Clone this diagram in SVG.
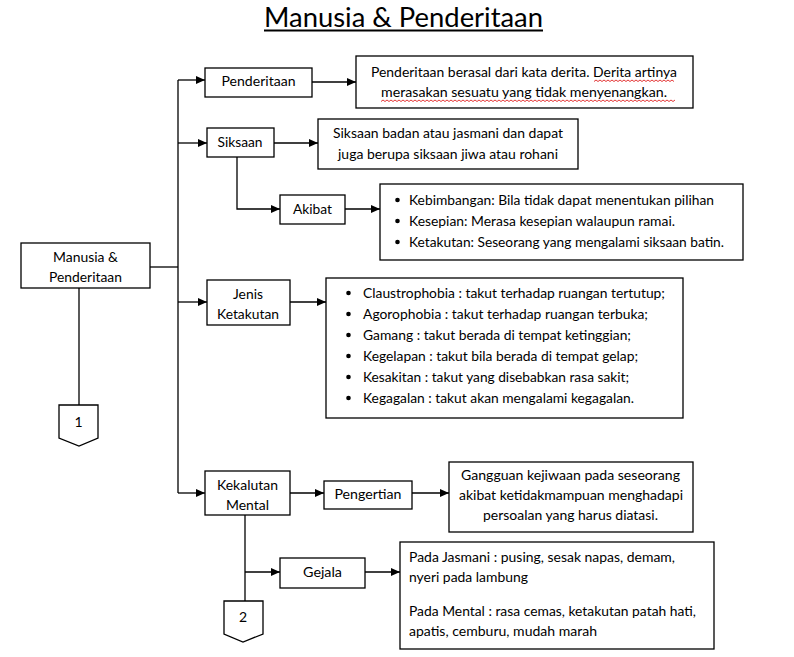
<svg xmlns="http://www.w3.org/2000/svg" width="794" height="657" viewBox="0 0 794 657">
<defs>
<marker id="arr" viewBox="0 0 9 8" refX="9" refY="4" markerWidth="9" markerHeight="8" markerUnits="userSpaceOnUse" orient="auto">
<path d="M0,0 L9,4 L0,8 z" fill="#000"/>
</marker>
<style>
.box{fill:#fff;stroke:#000;stroke-width:1.3}
.t{font-family:Lato,"Open Sans","Liberation Sans",sans-serif;font-size:14px;fill:#000}
.c{text-anchor:middle}
.ln{fill:none;stroke:#000;stroke-width:1.3}
.la{fill:none;stroke:#000;stroke-width:1.3;marker-end:url(#arr)}
.sq{fill:none;stroke:#e02020;stroke-width:0.9}
</style>
</defs>
<rect width="794" height="657" fill="#fff"/>

<g id="title">
<text class="t c" x="403.5" y="27" font-size="26" style="font-size:26px" textLength="279" lengthAdjust="spacingAndGlyphs">Manusia &amp; Penderitaan</text>
<rect x="264" y="29.5" width="279" height="2" fill="#000"/>
</g>

<g id="connectors">
<path class="ln" d="M150,267 H178"/>
<path class="ln" d="M178,80 V493"/>
<path class="la" d="M178,80 H205"/>
<path class="la" d="M178,143 H207"/>
<path class="la" d="M178,302 H207"/>
<path class="la" d="M178,493 H205"/>
<path class="la" d="M312,82 H356"/>
<path class="la" d="M274,143 H318"/>
<path class="la" d="M237,157 V209 H280"/>
<path class="la" d="M345,209 H380"/>
<path class="la" d="M290,302 H326"/>
<path class="la" d="M290,493 H324"/>
<path class="la" d="M412,493 H449"/>
<path class="ln" d="M245,515 V601"/>
<path class="la" d="M245,572 H280"/>
<path class="la" d="M365,572 H400"/>
<path class="ln" d="M79,288 V405"/>
</g>

<g id="manusia">
<rect class="box" x="21" y="243" width="129" height="45"/>
<text class="t c" x="85.5" y="262" textLength="65" lengthAdjust="spacingAndGlyphs">Manusia &amp;</text>
<text class="t c" x="85.5" y="282" textLength="73" lengthAdjust="spacingAndGlyphs">Penderitaan</text>
</g>

<g id="offpage1">
<path class="box" d="M59,405 H98 V438 L79,446 L59,438 z"/>
<text class="t c" x="78.5" y="427">1</text>
</g>

<g id="penderitaan">
<rect class="box" x="205" y="68" width="107" height="29"/>
<text class="t c" x="258.5" y="86" textLength="74" lengthAdjust="spacingAndGlyphs">Penderitaan</text>
</g>

<g id="penderitaan-desc">
<rect class="box" x="356" y="56" width="337" height="52"/>
<text class="t" x="371" y="77" textLength="306" lengthAdjust="spacingAndGlyphs">Penderitaan berasal dari kata derita. Derita artinya</text>
<text class="t" x="381" y="97" textLength="286" lengthAdjust="spacingAndGlyphs">merasakan sesuatu yang tidak menyenangkan.</text>
<path class="sq" d="M594,81.5 l2,-1.5 l2,1.5 l2,-1.5 l2,1.5 l2,-1.5 l2,1.5 l2,-1.5 l2,1.5 l2,-1.5 l2,1.5 l2,-1.5 l2,1.5 l2,-1.5 l2,1.5 l2,-1.5 l2,1.5 l2,-1.5 l2,1.5 l2,-1.5 l2,1.5 l2,-1.5 l2,1.5 l2,-1.5 l2,1.5 l2,-1.5 l2,1.5 l2,-1.5 l2,1.5 l2,-1.5 l2,1.5 l2,-1.5 l2,1.5 l2,-1.5 l2,1.5 l2,-1.5 l2,1.5 l2,-1.5 l2,1.5 l2,-1.5 l2,1.5"/>
<path class="sq" d="M381,101.5 l2,-1.5 l2,1.5 l2,-1.5 l2,1.5 l2,-1.5 l2,1.5 l2,-1.5 l2,1.5 l2,-1.5 l2,1.5 l2,-1.5 l2,1.5 l2,-1.5 l2,1.5 l2,-1.5 l2,1.5 l2,-1.5 l2,1.5 l2,-1.5 l2,1.5 l2,-1.5 l2,1.5 l2,-1.5 l2,1.5 l2,-1.5 l2,1.5 l2,-1.5 l2,1.5 l2,-1.5 l2,1.5 l2,-1.5 l2,1.5 l2,-1.5 l2,1.5 l2,-1.5 l2,1.5 l2,-1.5 l2,1.5 l2,-1.5 l2,1.5 l2,-1.5 l2,1.5 l2,-1.5 l2,1.5 l2,-1.5 l2,1.5 l2,-1.5 l2,1.5 l2,-1.5 l2,1.5 l2,-1.5 l2,1.5 l2,-1.5 l2,1.5 l2,-1.5 l2,1.5 l2,-1.5 l2,1.5 l2,-1.5 l2,1.5 l2,-1.5 l2,1.5 l2,-1.5 l2,1.5 l2,-1.5 l2,1.5 l2,-1.5 l2,1.5 l2,-1.5 l2,1.5 l2,-1.5 l2,1.5 l2,-1.5 l2,1.5 l2,-1.5 l2,1.5 l2,-1.5 l2,1.5 l2,-1.5 l2,1.5 l2,-1.5 l2,1.5 l2,-1.5 l2,1.5 l2,-1.5 l2,1.5 l2,-1.5 l2,1.5 l2,-1.5 l2,1.5 l2,-1.5 l2,1.5 l2,-1.5 l2,1.5 l2,-1.5 l2,1.5 l2,-1.5 l2,1.5 l2,-1.5 l2,1.5 l2,-1.5 l2,1.5 l2,-1.5 l2,1.5 l2,-1.5 l2,1.5 l2,-1.5 l2,1.5 l2,-1.5 l2,1.5 l2,-1.5 l2,1.5 l2,-1.5 l2,1.5 l2,-1.5 l2,1.5 l2,-1.5 l2,1.5 l2,-1.5 l2,1.5 l2,-1.5 l2,1.5 l2,-1.5 l2,1.5 l2,-1.5 l2,1.5 l2,-1.5 l2,1.5 l2,-1.5 l2,1.5 l2,-1.5 l2,1.5 l2,-1.5 l2,1.5 l2,-1.5 l2,1.5 l2,-1.5 l2,1.5 l2,-1.5 l2,1.5 l2,-1.5 l2,1.5 l2,-1.5 l2,1.5 l2,-1.5 l2,1.5 l2,-1.5"/>
</g>

<g id="siksaan">
<rect class="box" x="207" y="128" width="67" height="29"/>
<text class="t c" x="240" y="146.5" textLength="45" lengthAdjust="spacingAndGlyphs">Siksaan</text>
</g>

<g id="siksaan-desc">
<rect class="box" x="318" y="119" width="260" height="50"/>
<text class="t" x="333" y="137.5" textLength="230" lengthAdjust="spacingAndGlyphs">Siksaan badan atau jasmani dan dapat</text>
<text class="t" x="338" y="158.5" textLength="220" lengthAdjust="spacingAndGlyphs">juga berupa siksaan jiwa atau rohani</text>
</g>

<g id="akibat">
<rect class="box" x="280" y="195" width="65" height="29"/>
<text class="t c" x="312.5" y="214" textLength="39" lengthAdjust="spacingAndGlyphs">Akibat</text>
</g>

<g id="akibat-desc">
<rect class="box" x="380" y="184" width="363" height="76"/>
<circle cx="397.5" cy="200" r="2.3"/>
<circle cx="397.5" cy="221" r="2.3"/>
<circle cx="397.5" cy="242" r="2.3"/>
<text class="t" x="409" y="204.5" textLength="305" lengthAdjust="spacingAndGlyphs">Kebimbangan: Bila tidak dapat menentukan pilihan</text>
<text class="t" x="409" y="225.5" textLength="266" lengthAdjust="spacingAndGlyphs">Kesepian: Merasa kesepian walaupun ramai.</text>
<text class="t" x="409" y="246.5" textLength="315" lengthAdjust="spacingAndGlyphs">Ketakutan: Seseorang yang mengalami siksaan batin.</text>
</g>

<g id="jenis-ketakutan">
<rect class="box" x="207" y="280" width="83" height="45"/>
<text class="t c" x="248" y="299" textLength="30" lengthAdjust="spacingAndGlyphs">Jenis</text>
<text class="t c" x="248" y="319" textLength="62" lengthAdjust="spacingAndGlyphs">Ketakutan</text>
</g>

<g id="jenis-desc">
<rect class="box" x="326" y="278" width="357" height="140"/>
<circle cx="348.5" cy="293" r="2.3"/>
<circle cx="348.5" cy="314" r="2.3"/>
<circle cx="348.5" cy="335" r="2.3"/>
<circle cx="348.5" cy="356" r="2.3"/>
<circle cx="348.5" cy="377" r="2.3"/>
<circle cx="348.5" cy="398" r="2.3"/>
<text class="t" x="363" y="297.5" textLength="302" lengthAdjust="spacingAndGlyphs">Claustrophobia : takut terhadap ruangan tertutup;</text>
<text class="t" x="363" y="318.5" textLength="285" lengthAdjust="spacingAndGlyphs">Agorophobia : takut terhadap ruangan terbuka;</text>
<text class="t" x="363" y="339.5" textLength="268" lengthAdjust="spacingAndGlyphs">Gamang : takut berada di tempat ketinggian;</text>
<text class="t" x="363" y="360.5" textLength="275" lengthAdjust="spacingAndGlyphs">Kegelapan : takut bila berada di tempat gelap;</text>
<text class="t" x="363" y="381.5" textLength="266" lengthAdjust="spacingAndGlyphs">Kesakitan : takut yang disebabkan rasa sakit;</text>
<text class="t" x="363" y="402.5" textLength="271" lengthAdjust="spacingAndGlyphs">Kegagalan : takut akan mengalami kegagalan.</text>
</g>

<g id="kekalutan-mental">
<rect class="box" x="205" y="471" width="85" height="44"/>
<text class="t c" x="247.5" y="490" textLength="61" lengthAdjust="spacingAndGlyphs">Kekalutan</text>
<text class="t c" x="247.5" y="510" textLength="43" lengthAdjust="spacingAndGlyphs">Mental</text>
</g>

<g id="pengertian">
<rect class="box" x="324" y="481" width="88" height="28"/>
<text class="t c" x="368" y="499" textLength="67" lengthAdjust="spacingAndGlyphs">Pengertian</text>
</g>

<g id="pengertian-desc">
<rect class="box" x="449" y="462" width="244" height="70"/>
<text class="t c" x="570.5" y="479.5" textLength="219" lengthAdjust="spacingAndGlyphs">Gangguan kejiwaan pada seseorang</text>
<text class="t c" x="571" y="499.5" textLength="224" lengthAdjust="spacingAndGlyphs">akibat ketidakmampuan menghadapi</text>
<text class="t c" x="570.5" y="519.5" textLength="175" lengthAdjust="spacingAndGlyphs">persoalan yang harus diatasi.</text>
</g>

<g id="gejala">
<rect class="box" x="280" y="558" width="85" height="30"/>
<text class="t c" x="322.5" y="577" textLength="39" lengthAdjust="spacingAndGlyphs">Gejala</text>
</g>

<g id="gejala-desc">
<rect class="box" x="400" y="542" width="314" height="107"/>
<text class="t" x="409" y="561.5" textLength="266" lengthAdjust="spacingAndGlyphs">Pada Jasmani : pusing, sesak napas, demam,</text>
<text class="t" x="409" y="581.5" textLength="119" lengthAdjust="spacingAndGlyphs">nyeri pada lambung</text>
<text class="t" x="409" y="615.5" textLength="287" lengthAdjust="spacingAndGlyphs">Pada Mental : rasa cemas, ketakutan patah hati,</text>
<text class="t" x="409" y="635.5" textLength="188" lengthAdjust="spacingAndGlyphs">apatis, cemburu, mudah marah</text>
</g>

<g id="offpage2">
<path class="box" d="M224,601 H263 V634 L243,642 L224,634 z"/>
<text class="t c" x="243" y="622">2</text>
</g>
</svg>
